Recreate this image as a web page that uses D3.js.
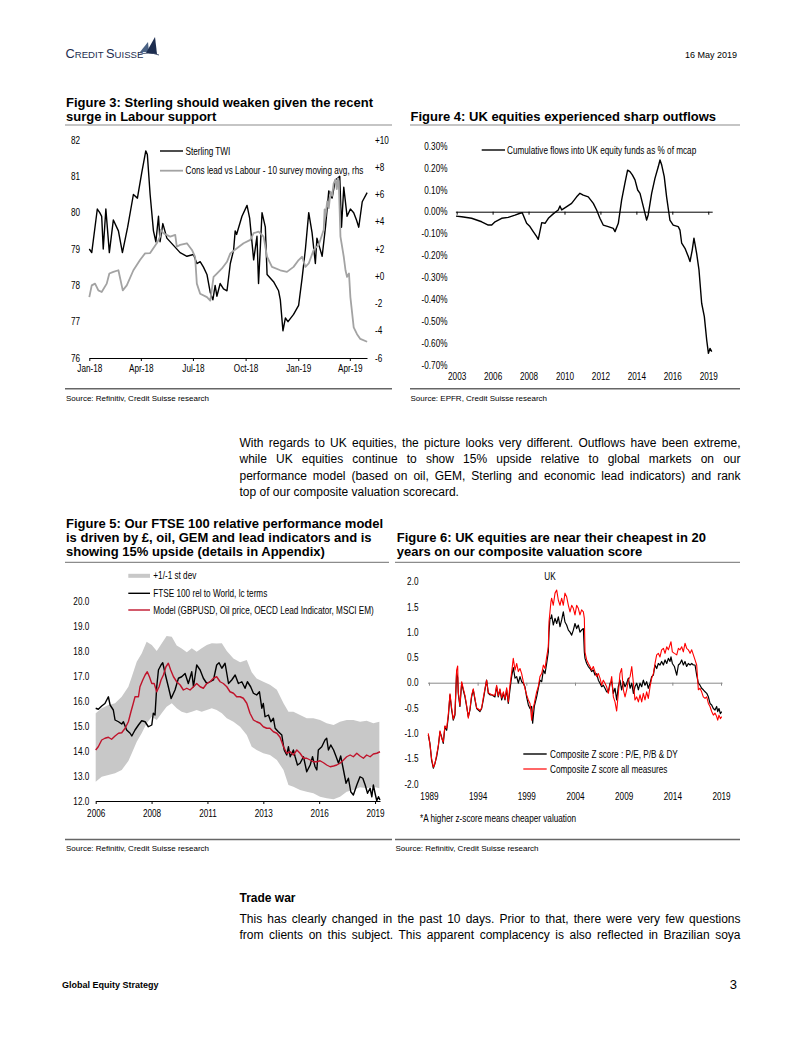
<!DOCTYPE html>
<html><head><meta charset="utf-8">
<script src="https://cdn.jsdelivr.net/npm/d3@7"></script>
<style>
html,body{margin:0;padding:0;background:#fff}
body{width:802px;height:1037px;position:relative;overflow:hidden;font-family:'Liberation Sans',Arial,Helvetica,sans-serif;color:#000}
#page{position:absolute;left:0;top:0}
.para{position:absolute;left:239.5px;width:501px;font-size:12px;line-height:16.3px}
.j{text-align:justify;text-align-last:justify}
</style></head><body>
<div id="page"></div>
<div class="para" style="top:435px">
<div class="j">With regards to UK equities, the picture looks very different. Outflows have been extreme,</div>
<div class="j">while UK equities continue to show 15% upside relative to global markets on our</div>
<div class="j">performance model (based on oil, GEM, Sterling and economic lead indicators) and rank</div>
<div>top of our composite valuation scorecard.</div>
</div>
<div class="para" style="top:889.6px;font-weight:bold">Trade war</div>
<div class="para" style="top:911.2px;line-height:16px">
<div class="j">This has clearly changed in the past 10 days. Prior to that, there were very few questions</div>
<div class="j">from clients on this subject. This apparent complacency is also reflected in Brazilian soya</div>
</div>
<script>
// ---------------- DATA ----------------
// Figure 3: months since Jan-2018, value
const fig3TickLabels = ["Jan-18","Apr-18","Jul-18","Oct-18","Jan-19","Apr-19"];
const fig3Sterling = [[0,79.0],[0.14,78.9],[0.46,80.1],[0.6,80.0],[0.71,79.9],[0.8,79.0],[0.95,80.1],[1.15,78.9],[1.38,79.8],[1.67,79.5],[1.9,78.9],[2.2,79.6],[2.53,80.5],[2.76,80.4],[3.01,81.1],[3.24,81.7],[3.33,81.6],[3.49,80.5],[3.68,79.5],[3.82,79.2],[3.97,79.9],[4.06,79.2],[4.22,79.7],[4.45,79.3],[4.83,79.1],[5.21,78.9],[5.6,78.8],[5.98,78.85],[6.17,78.6],[6.36,78.65],[6.55,78.5],[6.75,78.3],[6.94,77.8],[7.09,77.6],[7.22,78.0],[7.32,77.7],[7.51,78.05],[7.7,77.9],[7.9,77.85],[8.09,78.6],[8.28,78.97],[8.37,79.5],[8.45,79.4],[8.76,79.9],[9.05,80.2],[9.2,79.85],[9.43,78.7],[9.62,79.35],[9.71,78.05],[9.91,80.0],[10.1,79.6],[10.2,78.3],[10.57,78.1],[10.86,77.85],[10.96,77.6],[11.11,76.75],[11.25,77.1],[11.4,77.0],[11.72,77.2],[12.01,77.45],[12.21,78.2],[12.4,79.0],[12.59,80.0],[12.78,79.45],[12.97,78.6],[13.06,79.3],[13.36,78.8],[13.55,79.6],[13.74,80.6],[13.93,80.4],[14.12,80.9],[14.37,81.0],[14.47,79.6],[14.6,80.7],[14.79,79.9],[14.98,80.1],[15.17,80.0],[15.33,79.8],[15.46,79.6],[15.66,80.3],[15.94,80.55]];
const fig3ConsLead = [[0,-1.53],[0.14,-0.67],[0.33,-0.54],[0.52,-1.04],[0.71,-1.16],[1.0,-0.54],[1.15,0.2],[1.38,0.32],[1.67,0.44],[1.92,-1.04],[2.15,-0.67],[2.53,0.44],[2.91,1.19],[3.2,1.68],[3.49,1.7],[3.87,2.42],[4.06,2.91],[4.1,3.41],[4.25,3.16],[4.64,2.91],[4.93,3.04],[5.02,2.17],[5.21,2.3],[5.6,2.42],[5.89,1.93],[6.07,1.43],[6.17,-0.54],[6.36,-1.28],[6.75,-1.53],[6.94,-1.78],[7.13,-0.05],[7.32,0.2],[7.61,0.57],[7.9,1.06],[8.09,1.68],[8.47,2.05],[8.85,2.42],[9.24,2.67],[9.43,3.16],[9.71,3.28],[10.0,2.91],[10.2,1.43],[10.48,0.69],[10.96,0.44],[11.34,0.32],[11.72,0.69],[12.01,1.19],[12.21,1.43],[12.4,0.69],[12.59,0.94],[12.87,1.93],[13.16,2.3],[13.45,3.41],[13.5,4.9],[13.55,4.4],[13.65,5.5],[13.74,5.0],[13.84,6.2],[13.93,5.9],[14.02,6.8],[14.12,7.1],[14.2,6.4],[14.26,7.2],[14.31,6.98],[14.36,5.0],[14.41,2.91],[14.6,1.43],[14.7,0.44],[14.79,-0.05],[14.9,0.2],[14.98,-1.53],[15.17,-3.75],[15.36,-4.25],[15.55,-4.6],[15.94,-4.81]];
const fig3LeftTicks = [76,77,78,79,80,81,82];
const fig3RightTicks = [-6,-4,-2,0,2,4,6,8,10];

// Figure 4: decimal year, cumulative flows (% of mcap)
const fig4TickLabels = ["2003","2006","2008","2010","2012","2014","2016","2019"];
const fig4YTicks = [0.3,0.2,0.1,0,-0.1,-0.2,-0.3,-0.4,-0.5,-0.6,-0.7];
const fig4Flows = [[2003.26,-0.02],[2003.62,-0.023],[2004.25,-0.03],[2004.89,-0.046],[2005.31,-0.061],[2005.53,-0.061],[2005.74,-0.046],[2006.16,-0.03],[2006.58,-0.026],[2007.01,-0.016],[2007.33,-0.007],[2007.47,-0.005],[2007.75,-0.053],[2007.96,-0.068],[2008.17,-0.091],[2008.39,-0.114],[2008.49,-0.126],[2008.71,-0.05],[2008.92,-0.053],[2009.13,-0.03],[2009.44,-0.01],[2009.76,0.008],[2009.87,0.026],[2009.98,0.008],[2010.3,0.023],[2010.61,0.038],[2010.93,0.068],[2011.14,0.084],[2011.35,0.076],[2011.67,0.068],[2011.99,0.038],[2012.2,0.008],[2012.41,-0.03],[2012.62,-0.061],[2012.94,-0.068],[2013.26,-0.076],[2013.37,-0.091],[2013.58,-0.053],[2013.79,0.053],[2014.0,0.13],[2014.17,0.19],[2014.32,0.183],[2014.47,0.168],[2014.64,0.145],[2014.81,0.099],[2014.96,0.084],[2015.17,0.023],[2015.38,-0.038],[2015.48,-0.015],[2015.7,0.084],[2015.91,0.152],[2016.12,0.205],[2016.23,0.236],[2016.34,0.213],[2016.5,0.16],[2016.65,0.068],[2016.86,-0.038],[2017.07,-0.061],[2017.39,-0.068],[2017.5,-0.084],[2017.61,-0.144],[2017.82,-0.167],[2018.03,-0.205],[2018.14,-0.228],[2018.28,-0.175],[2018.39,-0.121],[2018.56,-0.19],[2018.71,-0.266],[2018.88,-0.418],[2019.05,-0.479],[2019.2,-0.586],[2019.31,-0.647],[2019.41,-0.624],[2019.52,-0.639]];

// Figure 5: decimal year
const fig5TickLabels = ["2006","2008","2011","2013","2016","2019"];
const fig5YTicks = [12,13,14,15,16,17,18,19,20];
const fig5Band = [[2006.00,12.77,15.51],[2006.28,12.97,15.71],[2006.59,13.04,15.84],[2006.90,13.11,15.91],[2007.21,13.24,16.17],[2007.52,13.6,16.57],[2007.68,13.91,16.97],[2007.91,14.37,17.57],[2008.14,14.71,17.9],[2008.37,15.11,18.37],[2008.61,15.37,18.24],[2008.84,15.24,18.0],[2009.07,15.51,18.3],[2009.30,15.77,18.6],[2009.54,15.91,18.57],[2009.77,15.71,18.22],[2010.00,15.57,18.1],[2010.24,15.51,17.95],[2010.47,15.57,18.11],[2010.70,15.64,17.97],[2010.93,15.57,18.11],[2011.17,15.64,18.24],[2011.40,15.71,18.31],[2011.63,15.64,18.3],[2011.87,15.51,18.31],[2012.10,15.31,18.0],[2012.41,15.17,17.7],[2012.72,14.97,17.55],[2013.03,14.64,17.64],[2013.26,14.17,17.15],[2013.49,14.04,16.9],[2013.80,13.91,16.77],[2014.11,13.84,16.65],[2014.43,13.64,16.45],[2014.74,13.24,15.91],[2014.97,12.64,15.57],[2015.20,12.57,15.57],[2015.51,12.44,15.44],[2015.82,12.37,15.31],[2016.13,12.31,15.31],[2016.44,12.17,15.24],[2016.75,12.11,15.11],[2017.07,12.07,15.04],[2017.37,12.17,15.17],[2017.68,12.37,15.24],[2017.99,12.44,15.24],[2018.30,12.55,15.17],[2018.61,12.51,15.21],[2018.92,12.57,15.11],[2019.20,12.51,15.17]];
const fig5FTSE = [[2006.00,15.71],[2006.12,15.67],[2006.28,15.8],[2006.43,15.9],[2006.59,16.17],[2006.67,15.84],[2006.82,15.64],[2006.90,15.24],[2007.06,15.17],[2007.21,15.08],[2007.29,15.17],[2007.44,14.84],[2007.60,14.71],[2007.68,14.6],[2007.83,14.84],[2007.99,15.04],[2008.14,15.21],[2008.30,15.17],[2008.45,14.97],[2008.61,15.04],[2008.68,15.51],[2008.76,15.44],[2008.84,16.57],[2008.92,17.24],[2009.04,17.44],[2009.12,17.53],[2009.23,17.1],[2009.38,16.57],[2009.51,16.1],[2009.69,16.44],[2009.85,16.91],[2010.00,16.97],[2010.16,17.1],[2010.31,16.7],[2010.47,17.17],[2010.55,16.57],[2010.70,17.44],[2010.86,17.24],[2011.01,16.91],[2011.17,16.7],[2011.32,16.77],[2011.48,16.84],[2011.63,17.44],[2011.74,17.53],[2011.87,17.31],[2012.02,17.51],[2012.18,16.7],[2012.33,16.84],[2012.49,17.04],[2012.64,16.7],[2012.80,16.77],[2012.95,16.51],[2013.06,16.77],[2013.21,16.57],[2013.34,16.31],[2013.49,16.24],[2013.62,16.37],[2013.73,15.71],[2013.80,15.9],[2013.88,15.37],[2014.04,15.44],[2014.15,15.17],[2014.27,15.31],[2014.35,14.91],[2014.50,14.77],[2014.66,14.64],[2014.77,14.04],[2014.89,13.84],[2014.97,14.17],[2015.05,13.77],[2015.20,14.04],[2015.28,13.77],[2015.39,13.44],[2015.51,13.51],[2015.67,13.77],[2015.82,13.17],[2015.98,13.44],[2016.09,13.77],[2016.21,13.37],[2016.29,13.24],[2016.36,14.04],[2016.52,14.17],[2016.67,14.44],[2016.75,14.51],[2016.83,14.04],[2016.94,14.24],[2017.07,14.04],[2017.19,13.77],[2017.30,13.51],[2017.40,13.8],[2017.53,13.24],[2017.65,12.71],[2017.76,12.91],[2017.87,12.37],[2017.99,12.24],[2018.15,12.64],[2018.30,12.97],[2018.43,12.91],[2018.54,12.64],[2018.65,12.31],[2018.77,12.51],[2018.85,12.17],[2018.92,12.64],[2019.00,12.31],[2019.08,12.01],[2019.16,12.17],[2019.23,12.04]];
const fig5Model = [[2006.00,14.04],[2006.12,14.17],[2006.28,14.44],[2006.43,14.51],[2006.59,14.55],[2006.74,14.47],[2006.90,14.6],[2007.06,14.71],[2007.21,14.73],[2007.37,14.91],[2007.52,15.17],[2007.64,15.57],[2007.75,15.91],[2007.83,16.17],[2007.99,16.17],[2008.06,16.57],[2008.19,16.84],[2008.30,17.04],[2008.40,17.17],[2008.50,16.97],[2008.61,16.7],[2008.72,16.7],[2008.84,16.37],[2008.95,16.57],[2009.04,16.84],[2009.15,17.04],[2009.27,17.37],[2009.38,17.51],[2009.49,17.24],[2009.62,16.97],[2009.77,16.77],[2009.93,16.64],[2010.08,16.44],[2010.24,16.51],[2010.39,16.44],[2010.55,16.57],[2010.70,16.7],[2010.86,16.57],[2011.01,16.51],[2011.17,16.7],[2011.32,16.77],[2011.48,16.91],[2011.63,16.97],[2011.79,16.77],[2011.94,16.7],[2012.10,16.57],[2012.25,16.37],[2012.41,16.31],[2012.56,16.17],[2012.72,16.17],[2012.87,16.11],[2013.03,15.91],[2013.18,15.51],[2013.34,15.24],[2013.49,15.17],[2013.65,15.11],[2013.80,14.97],[2013.96,14.91],[2014.11,14.91],[2014.27,14.77],[2014.43,14.71],[2014.58,14.55],[2014.74,14.17],[2014.89,13.91],[2015.05,13.97],[2015.20,13.84],[2015.36,14.04],[2015.51,13.91],[2015.67,13.71],[2015.82,13.71],[2015.98,13.64],[2016.13,13.57],[2016.29,13.57],[2016.44,13.61],[2016.60,13.53],[2016.75,13.44],[2016.91,13.37],[2017.07,13.4],[2017.22,13.44],[2017.37,13.51],[2017.53,13.64],[2017.68,13.77],[2017.84,13.84],[2017.99,13.77],[2018.15,13.91],[2018.30,13.8],[2018.46,13.71],[2018.61,13.84],[2018.77,13.77],[2018.92,13.88],[2019.08,13.91],[2019.23,13.97]];

// Figure 6: decimal year, P/E-P/B-DY composite, all-measures composite
const fig6TickLabels = ["1989","1994","1999","2004","2009","2014","2019"];
const fig6YTicks = [2,1.5,1,0.5,0,-0.5,-1,-1.5,-2];
const fig6Z = [[1988.93,-1.03,-1.0],[1989.10,-1.2,-1.22],[1989.27,-1.53,-1.5],[1989.45,-1.69,-1.67],[1989.62,-1.59,-1.6],[1989.79,-1.46,-1.42],[1989.96,-1.26,-1.25],[1990.13,-0.97,-0.95],[1990.30,-1.07,-1.1],[1990.47,-1.2,-1.17],[1990.64,-0.87,-0.85],[1990.82,-0.94,-0.9],[1990.99,-0.67,-0.62],[1991.16,-0.24,-0.22],[1991.33,-0.54,-0.5],[1991.50,-0.74,-0.72],[1991.67,-0.64,-0.6],[1991.84,0.2,0.25],[1991.95,0.1,0.33],[1992.01,-0.21,-0.18],[1992.18,-0.47,-0.45],[1992.36,-0.01,0.02],[1992.53,-0.15,-0.12],[1992.70,-0.28,-0.25],[1992.87,-0.47,-0.45],[1993.04,-0.67,-0.7],[1993.21,-0.54,-0.52],[1993.38,-0.28,-0.25],[1993.55,-0.14,-0.12],[1993.73,-0.34,-0.32],[1993.90,-0.51,-0.5],[1994.07,-0.54,-0.52],[1994.24,-0.57,-0.55],[1994.41,-0.51,-0.5],[1994.58,-0.34,-0.3],[1994.75,-0.14,-0.12],[1994.92,0.05,0.05],[1995.10,-0.21,-0.2],[1995.27,-0.24,-0.22],[1995.44,-0.24,-0.24],[1995.78,-0.28,-0.25],[1995.95,-0.08,-0.05],[1996.12,-0.28,-0.26],[1996.29,-0.14,-0.12],[1996.47,-0.34,-0.3],[1996.64,-0.21,-0.18],[1996.81,-0.34,-0.32],[1996.98,-0.14,-0.1],[1997.15,-0.41,-0.38],[1997.32,-0.14,-0.05],[1997.49,0.12,0.2],[1997.66,0.3,0.48],[1997.84,0.09,0.25],[1998.01,0.12,0.38],[1998.18,-0.01,0.22],[1998.35,0.12,0.28],[1998.52,0.02,0.18],[1998.69,-0.01,0.02],[1998.86,-0.08,-0.11],[1999.03,-0.28,-0.24],[1999.21,-0.44,-0.34],[1999.38,-0.51,-0.41],[1999.55,-0.47,-0.74],[1999.65,-0.8,-0.55],[1999.82,-0.47,-0.41],[2000.06,-0.28,-0.18],[2000.23,-0.11,-0.08],[2000.40,0.05,0.12],[2000.58,0.02,0.18],[2000.75,0.25,0.35],[2000.92,0.18,0.28],[2001.09,0.38,0.51],[2001.26,0.61,0.71],[2001.33,1.0,1.2],[2001.43,1.27,1.4],[2001.53,1.27,1.6],[2001.60,1.34,1.67],[2001.77,1.14,1.53],[2001.95,1.27,1.77],[2002.12,1.17,1.83],[2002.29,1.3,1.63],[2002.46,1.11,1.53],[2002.63,1.24,1.67],[2002.80,1.4,1.53],[2002.97,1.2,1.77],[2003.14,1.14,1.7],[2003.32,1.04,1.53],[2003.49,1.0,1.4],[2003.66,0.94,1.53],[2003.83,1.04,1.47],[2004.00,1.17,1.34],[2004.17,1.07,1.53],[2004.34,1.14,1.47],[2004.51,1.0,1.34],[2004.68,1.04,1.44],[2004.86,1.07,1.4],[2004.96,0.61,1.27],[2005.03,0.48,0.6],[2005.20,0.38,0.45],[2005.37,0.32,0.38],[2005.54,0.28,0.32],[2005.71,0.22,0.25],[2005.88,0.25,0.32],[2006.05,0.15,0.22],[2006.23,0.18,0.12],[2006.40,0.05,0.18],[2006.57,-0.01,0.09],[2006.74,-0.08,-0.05],[2006.91,-0.05,0.05],[2007.08,-0.11,-0.01],[2007.25,-0.18,-0.08],[2007.42,-0.18,-0.21],[2007.60,-0.01,-0.05],[2007.77,0.02,0.12],[2007.94,-0.21,-0.28],[2008.11,-0.11,-0.38],[2008.28,-0.34,-0.56],[2008.45,-0.08,-0.21],[2008.62,0.05,0.18],[2008.79,-0.14,0.28],[2008.97,0.02,-0.14],[2009.14,-0.08,-0.28],[2009.31,-0.01,-0.14],[2009.48,0.09,0.05],[2009.66,-0.11,0.12],[2009.83,-0.01,0.32],[2010.00,-0.21,-0.01],[2010.16,-0.08,-0.34],[2010.34,-0.01,-0.28],[2010.51,-0.14,-0.38],[2010.68,-0.01,-0.24],[2010.85,-0.08,-0.38],[2011.02,0.05,-0.21],[2011.19,-0.05,-0.34],[2011.36,0.02,-0.18],[2011.53,-0.11,-0.31],[2011.71,-0.01,-0.08],[2011.88,0.12,0.09],[2012.05,0.15,0.18],[2012.22,0.35,0.38],[2012.39,0.28,0.55],[2012.56,0.38,0.58],[2012.73,0.35,0.51],[2012.90,0.42,0.65],[2013.08,0.35,0.68],[2013.25,0.45,0.58],[2013.42,0.38,0.71],[2013.59,0.48,0.65],[2013.76,0.42,0.75],[2013.86,0.51,0.81],[2014.00,0.38,0.61],[2014.21,0.32,0.58],[2014.45,0.15,0.55],[2014.62,0.35,0.68],[2014.79,0.38,0.65],[2014.96,0.45,0.71],[2015.13,0.35,0.61],[2015.30,0.42,0.78],[2015.47,0.32,0.68],[2015.64,0.38,0.65],[2015.82,0.35,0.58],[2015.99,0.38,0.65],[2016.16,0.35,0.55],[2016.33,0.35,0.45],[2016.50,0.15,0.35],[2016.67,-0.01,-0.14],[2016.84,-0.05,-0.11],[2017.01,-0.11,-0.18],[2017.18,-0.14,-0.28],[2017.36,-0.18,-0.31],[2017.53,-0.21,-0.28],[2017.70,-0.28,-0.41],[2017.87,-0.41,-0.47],[2018.04,-0.44,-0.57],[2018.21,-0.51,-0.64],[2018.38,-0.54,-0.6],[2018.55,-0.47,-0.67],[2018.66,-0.57,-0.74],[2018.79,-0.51,-0.64],[2018.93,-0.61,-0.71],[2019.07,-0.57,-0.67]];

// ---------------- RENDER ----------------
const SANS = "'Liberation Sans', Arial, Helvetica, sans-serif";
const hasNarrow = (() => {
  const c = document.createElement('canvas').getContext('2d');
  const s = 'The quick brown fox 0123456789';
  c.font = "20px 'Liberation Sans'"; const w1 = c.measureText(s).width;
  c.font = "20px 'Liberation Sans Narrow', monospace"; const w2 = c.measureText(s).width;
  c.font = "20px monospace"; const w3 = c.measureText(s).width;
  return Math.abs(w2 - w3) > 1 && w2 < w1 * 0.92;
})();
const NF = hasNarrow ? "'Liberation Sans Narrow','Arial Narrow'," + SANS : SANS;
const NSX = hasNarrow ? 1 : 0.82;
const NFS = 10;

const svg = d3.select('#page').append('svg').attr('width', 802).attr('height', 1037);

function ntext(g, x, y, str, anchor) {
  return g.append('text').attr('transform', `translate(${x},${y}) scale(${NSX},1)`)
    .attr('text-anchor', anchor || 'start').style('font-family', NF).style('font-size', NFS + 'px')
    .attr('fill', '#000').text(str);
}
function fixAxis(g) {
  g.attr('font-family', null).attr('font-size', null);
  g.selectAll('.tick text').each(function () {
    const t = d3.select(this); const x = +(t.attr('x') || 0), y = +(t.attr('y') || 0);
    t.attr('x', null).attr('y', null).attr('transform', `translate(${x},${y}) scale(${NSX},1)`)
      .style('font-family', NF).style('font-size', NFS + 'px').attr('fill', '#000');
  });
  g.selectAll('.tick line').attr('stroke', '#000');
}
function titleBlock(x, y, lines) {
  lines.forEach((s, i) => svg.append('text').attr('x', x).attr('y', y + i * 13.9)
    .style('font-family', SANS).style('font-size', '13px').style('font-weight', 'bold').text(s));
}
function rule(x1, x2, y, color, w) {
  svg.append('line').attr('x1', x1).attr('x2', x2).attr('y1', y).attr('y2', y).attr('stroke', color).attr('stroke-width', w);
}
function source(x, y, s) {
  svg.append('text').attr('x', x).attr('y', y).style('font-family', SANS).style('font-size', '8px').text(s);
}
function legLine(g, x1, x2, y, color, w) {
  g.append('line').attr('x1', x1).attr('x2', x2).attr('y1', y).attr('y2', y).attr('stroke', color).attr('stroke-width', w);
}

// Header
const logo = svg.append('g');
const lt = logo.append('text').attr('x', 65.5).attr('y', 58).attr('fill', '#1d2d4f').style('font-family', SANS);
lt.append('tspan').style('font-size', '12.8px').text('C');
lt.append('tspan').style('font-size', '9.6px').text('REDIT ');
lt.append('tspan').style('font-size', '12.8px').text('S');
lt.append('tspan').style('font-size', '9.6px').text('UISSE');
logo.append('path').attr('d', 'M140,52 L148,42 L149,52 Z').attr('fill', '#4a6284');
logo.append('path').attr('d', 'M146,53 L155,37 L157,54 Z').attr('fill', '#1d2d4f');
logo.append('path').attr('d', 'M138,55 Q148,51 159,55').attr('fill', 'none').attr('stroke', '#1d2d4f').attr('stroke-width', 0.8);
svg.append('text').attr('x', 737).attr('y', 58).attr('text-anchor', 'end').style('font-family', SANS).style('font-size', '9px').text('16 May 2019');

// ---------- Figure 3 ----------
titleBlock(66, 107.2, ['Figure 3: Sterling should weaken given the recent', 'surge in Labour support']);
rule(65, 392, 125, '#8c8c8c', 1.2);
const f3 = svg.append('g');
const t0 = new Date(2018, 0, 1).getTime();
const m2d = m => new Date(t0 + m * 30.44 * 864e5);
const x3 = d3.scaleTime().domain([new Date(2018, 0, 1), new Date(2019, 4, 1)]).range([89.3, 367]);
const y3L = d3.scaleLinear().domain([76, 82]).range([358, 140]);
const y3R = d3.scaleLinear().domain([-6, 10]).range([358, 140]);
const ax3 = f3.append('g').attr('transform', 'translate(0,358)')
  .call(d3.axisBottom(x3).tickValues(d3.timeMonth.range(new Date(2018, 0, 1), new Date(2019, 4, 1), 3))
    .tickFormat((d, i) => fig3TickLabels[i]).tickSizeInner(3).tickSizeOuter(0).tickPadding(3.5));
fixAxis(ax3); ax3.select('.domain').attr('stroke', '#000');
const ay3 = f3.append('g').attr('transform', 'translate(84,0)')
  .call(d3.axisLeft(y3L).tickValues(fig3LeftTicks).tickFormat(d => String(d)).tickSize(0).tickPadding(4));
ay3.select('.domain').remove(); fixAxis(ay3);
const ay3r = f3.append('g').attr('transform', 'translate(371,0)')
  .call(d3.axisRight(y3R).tickValues(fig3RightTicks).tickFormat(d => (d >= 0 ? '+' : '') + d).tickSize(0).tickPadding(4));
ay3r.select('.domain').remove(); fixAxis(ay3r);
f3.append('path').datum(fig3Sterling).attr('fill', 'none').attr('stroke', '#000').attr('stroke-width', 1.4).attr('stroke-linejoin', 'round')
  .attr('d', d3.line().x(d => x3(m2d(d[0]))).y(d => y3L(d[1])));
f3.append('path').datum(fig3ConsLead).attr('fill', 'none').attr('stroke', '#a3a3a3').attr('stroke-width', 1.8).attr('stroke-linejoin', 'round')
  .attr('d', d3.line().x(d => x3(m2d(d[0]))).y(d => y3R(d[1])));
legLine(f3, 160, 183, 151, '#000', 1.4); ntext(f3, 185.5, 154.5, 'Sterling TWI');
legLine(f3, 160, 183, 170.7, '#a3a3a3', 1.8); ntext(f3, 185.5, 174.2, 'Cons lead vs Labour - 10 survey moving avg, rhs');
rule(65, 392, 388.8, '#666', 1.5);
source(66, 400.5, 'Source: Refinitiv, Credit Suisse research');

// ---------- Figure 4 ----------
titleBlock(410.5, 121.2, ['Figure 4: UK equities experienced sharp outflows']);
rule(410, 740, 125, '#8c8c8c', 1.2);
const f4 = svg.append('g');
const x4 = d3.scaleLinear().domain([2003.22, 2019.55]).range([455.4, 712.2]);
const y4 = d3.scaleLinear().domain([-0.7, 0.3]).range([365, 146]);
const fig4TickPos = fig4TickLabels.map((_, i) => 2003.3 + i * 16 / (fig4TickLabels.length - 1));
const fmtPct = v => (v < 0 ? '-' : '') + Math.abs(v).toFixed(2) + '%';
const ay4 = f4.append('g').attr('transform', 'translate(451.5,0)')
  .call(d3.axisLeft(y4).tickValues(fig4YTicks).tickFormat(fmtPct).tickSize(0).tickPadding(4));
ay4.select('.domain').remove(); fixAxis(ay4);
const z4 = f4.append('g').attr('transform', `translate(0,${y4(0)})`)
  .call(d3.axisBottom(x4).tickValues(fig4TickPos).tickFormat('').tickSizeInner(3).tickSizeOuter(0));
z4.select('.domain').attr('stroke', '#000'); fixAxis(z4);
const ax4 = f4.append('g').attr('transform', 'translate(0,365)')
  .call(d3.axisBottom(x4).tickValues(fig4TickPos).tickFormat((d, i) => fig4TickLabels[i]).tickSize(0).tickPadding(8.2));
ax4.select('.domain').remove(); fixAxis(ax4);
f4.append('path').datum(fig4Flows).attr('fill', 'none').attr('stroke', '#000').attr('stroke-width', 1.4).attr('stroke-linejoin', 'round')
  .attr('d', d3.line().x(d => x4(d[0])).y(d => y4(d[1])));
legLine(f4, 481.7, 505, 150, '#000', 1.4); ntext(f4, 507, 153.5, 'Cumulative flows into UK equity funds as % of mcap');
rule(410, 740, 388.8, '#666', 1.5);
source(410.5, 400.5, 'Source: EPFR, Credit Suisse research');

// ---------- Figure 5 ----------
titleBlock(66, 528.4, ['Figure 5: Our FTSE 100 relative performance model', 'is driven by £, oil, GEM and lead indicators and is', 'showing 15% upside (details in Appendix)']);
rule(65, 389, 562.3, '#8c8c8c', 1.2);
const f5 = svg.append('g');
const x5 = d3.scaleLinear().domain([2006, 2019.23]).range([95.7, 380]);
const y5 = d3.scaleLinear().domain([12, 20]).range([801, 601]);
const fig5TickPos = fig5TickLabels.map((_, i) => 2006 + i * 2.6);
f5.append('path').datum(fig5Band).attr('fill', '#c8c8c8').attr('stroke', 'none')
  .attr('d', d3.area().x(d => x5(d[0])).y0(d => y5(d[1])).y1(d => y5(d[2])));
const ay5 = f5.append('g').attr('transform', 'translate(93.3,0)')
  .call(d3.axisLeft(y5).tickValues(fig5YTicks).tickFormat(d => d.toFixed(1)).tickSize(0).tickPadding(4));
ay5.select('.domain').remove(); fixAxis(ay5);
f5.append('path').datum(fig5FTSE).attr('fill', 'none').attr('stroke', '#000').attr('stroke-width', 1.4).attr('stroke-linejoin', 'round')
  .attr('d', d3.line().x(d => x5(d[0])).y(d => y5(d[1])));
f5.append('path').datum(fig5Model).attr('fill', 'none').attr('stroke', '#c0132b').attr('stroke-width', 1.4).attr('stroke-linejoin', 'round')
  .attr('d', d3.line().x(d => x5(d[0])).y(d => y5(d[1])));
const ax5 = f5.append('g').attr('transform', 'translate(0,801)')
  .call(d3.axisBottom(x5).tickValues(fig5TickPos).tickFormat((d, i) => fig5TickLabels[i]).tickSizeInner(3).tickSizeOuter(0).tickPadding(5.9));
ax5.select('.domain').attr('stroke', '#000'); fixAxis(ax5);
f5.append('rect').attr('x', 128.3).attr('y', 573.8).attr('width', 21.7).attr('height', 4).attr('fill', '#c8c8c8');
ntext(f5, 153.3, 579.3, '+1/-1 st dev');
legLine(f5, 128.3, 150, 593.3, '#000', 1.4); ntext(f5, 153.3, 596.8, 'FTSE 100 rel to World, lc terms');
legLine(f5, 128.3, 150, 610, '#c0132b', 1.4); ntext(f5, 153.3, 613.5, 'Model (GBPUSD, Oil price, OECD Lead Indicator, MSCI EM)');
rule(65, 392, 839.5, '#666', 1.5);
source(66, 850.5, 'Source: Refinitiv, Credit Suisse research');

// ---------- Figure 6 ----------
titleBlock(396.7, 542.3, ['Figure 6: UK equities are near their cheapest in 20', 'years on our composite valuation score']);
rule(395, 740, 562.3, '#8c8c8c', 1.2);
const f6 = svg.append('g');
const x6 = d3.scaleLinear().domain([1988.85, 2019.1]).range([427.5, 722]);
const y6 = d3.scaleLinear().domain([-2, 2]).range([783.9, 581.5]);
const fig6TickPos = fig6TickLabels.map(Number);
const fmt1 = v => (v < 0 ? '-' : '') + Math.abs(v).toFixed(1);
const ay6 = f6.append('g').attr('transform', 'translate(422.5,0)')
  .call(d3.axisLeft(y6).tickValues(fig6YTicks).tickFormat(fmt1).tickSize(0).tickPadding(4));
ay6.select('.domain').remove(); fixAxis(ay6);
const z6 = f6.append('g').attr('transform', `translate(0,${y6(0)})`)
  .call(d3.axisBottom(x6).tickValues(fig6TickPos).tickFormat('').tickSizeInner(3).tickSizeOuter(0));
fixAxis(z6); z6.select('.domain').attr('stroke', '#8a8a8a'); z6.selectAll('.tick line').attr('stroke', '#8a8a8a');
const ax6 = f6.append('g').attr('transform', 'translate(0,784)')
  .call(d3.axisBottom(x6).tickValues(fig6TickPos).tickFormat((d, i) => fig6TickLabels[i]).tickSize(0).tickPadding(9.2));
ax6.select('.domain').remove(); fixAxis(ax6);
f6.append('path').datum(fig6Z).attr('fill', 'none').attr('stroke', '#000').attr('stroke-width', 1.2).attr('stroke-linejoin', 'round')
  .attr('d', d3.line().x(d => x6(d[0])).y(d => y6(d[1])));
f6.append('path').datum(fig6Z).attr('fill', 'none').attr('stroke', '#ff0000').attr('stroke-width', 1.1).attr('stroke-linejoin', 'round')
  .attr('d', d3.line().x(d => x6(d[0])).y(d => y6(d[2])));
ntext(f6, 550, 579.5, 'UK', 'middle');
legLine(f6, 523.3, 546.7, 754, '#000', 1.4); ntext(f6, 550, 757.5, 'Composite Z score : P/E, P/B & DY');
legLine(f6, 523.3, 546.7, 769, '#ff0000', 1.2); ntext(f6, 550, 772.5, 'Composite Z score all measures');
ntext(f6, 420, 821.5, '*A higher z-score means cheaper valuation');
rule(395, 740, 839.5, '#666', 1.5);
source(395.5, 850.5, 'Source: Refinitiv, Credit Suisse research');

// Footer
svg.append('text').attr('x', 62).attr('y', 988).style('font-family', SANS).style('font-size', '9px').style('font-weight', 'bold').text('Global Equity Strategy');
svg.append('text').attr('x', 737).attr('y', 989).attr('text-anchor', 'end').style('font-family', SANS).style('font-size', '13px').text('3');
</script>
</body></html>
